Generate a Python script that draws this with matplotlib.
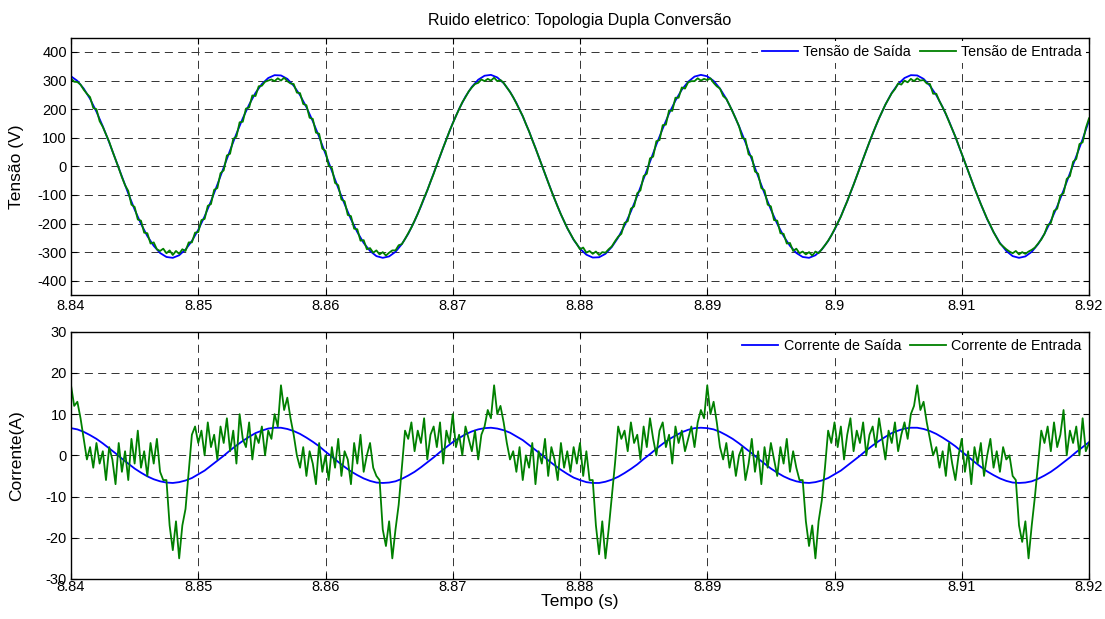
import numpy as np
import matplotlib
matplotlib.use("Agg")
import matplotlib.pyplot as plt

plt.rcParams['font.family'] = ['Liberation Sans', 'DejaVu Sans']
plt.rcParams['lines.scale_dashes'] = False
plt.rcParams['axes.unicode_minus'] = False

# ---------------- data ----------------
t_start, t_end = 8.84, 8.92

tensao_saida = [
    315, 299, 272, 236, 191, 140, 84, 24, -36, -95,
    -151, -201, -244, -278, -303, -317, -320, -311, -291, -261,
    -222, -175, -122, -64, -4, 56, 114, 168, 216, 257,
    288, 309, 319, 318, 306, 282, 249, 207, 158, 103,
    44, -16, -76, -132, -185, -230, -268, -296, -314, -320,
    -315, -299, -272, -236, -191, -140, -84, -24, 36, 95,
    151, 201, 244, 278, 303, 317, 320, 311, 291, 261,
    222, 175, 122, 64, 4, -56, -114, -168, -216, -257,
    -288, -309, -319, -318, -306, -282, -249, -207, -158, -103,
    -44, 16, 76, 132, 185, 230, 268, 296, 314, 320,
    315, 299, 272, 236, 191, 140, 84, 24, -36, -95,
    -151, -201, -244, -278, -303, -317, -320, -311, -291, -261,
    -222, -175, -122, -64, -4, 56, 114, 168, 216, 257,
    288, 309, 319, 318, 306, 282, 249, 207, 158, 103,
    44, -16, -76, -132, -185, -230, -268, -296, -314, -320,
    -315, -299, -272, -236, -191, -140, -84, -24, 36, 95,
    160,
]

tensao_entrada = [
    308, 296, 295, 286, 268, 254, 242, 204, 200, 158,
    138, 112, 86, 54, 24, -6, -38, -66, -86, -134,
    -142, -186, -190, -232, -234, -270, -266, -290, -296, -288,
    -304, -294, -310, -296, -306, -290, -296, -266, -266, -232,
    -230, -188, -184, -138, -132, -82, -76, -24, -14, 38,
    44, 96, 104, 154, 156, 202, 206, 248, 246, 280,
    282, 296, 300, 304, 298, 308, 300, 310, 298, 290,
    288, 258, 256, 218, 214, 170, 166, 118, 114, 62,
    54, 2, -6, -58, -66, -116, -122, -170, -174, -218,
    -220, -260, -258, -290, -286, -302, -294, -308, -300, -312,
    -302, -294, -294, -276, -272, -254, -234, -214, -190, -166,
    -138, -110, -84, -54, -26, 6, 36, 66, 94, 124,
    150, 176, 200, 224, 242, 262, 276, 288, 292, 304,
    298, 306, 300, 310, 298, 302, 292, 276, 260, 242,
    220, 198, 176, 148, 122, 92, 64, 34, 4, -26,
    -56, -86, -114, -142, -168, -192, -216, -236, -256, -272,
    -290, -284, -302, -296, -306, -298, -310, -300, -302, -290,
    -280, -262, -246, -236, -198, -192, -148, -140, -94, -84,
    -34, -26, 28, 34, 88, 92, 144, 146, 196, 194,
    240, 240, 276, 272, 294, 298, 298, 308, 300, 306,
    302, 308, 292, 280, 272, 246, 236, 214, 190, 166,
    140, 100, 94, 42, 34, -18, -26, -76, -84, -134,
    -140, -188, -190, -234, -236, -270, -268, -296, -288, -304,
    -298, -308, -300, -312, -298, -304, -290, -276, -260, -242,
    -220, -198, -176, -148, -122, -92, -64, -34, -4, 26,
    56, 86, 114, 142, 168, 192, 216, 236, 256, 270,
    290, 286, 300, 294, 306, 298, 308, 300, 302, 290,
    288, 254, 254, 228, 206, 184, 156, 130, 104, 74,
    44, 14, -16, -46, -76, -104, -132, -158, -184, -206,
    -230, -250, -270, -280, -290, -298, -304, -296, -308, -300,
    -306, -298, -292, -284, -270, -256, -236, -206, -198, -156,
    -148, -102, -94, -44, -34, 16, 26, 78, 84, 134,
    168,
]

corrente_saida = [
    6.6, 6.3, 5.7, 4.9, 4.0, 2.9, 1.7, 0.5, -0.8, -2.0,
    -3.2, -4.2, -5.1, -5.8, -6.3, -6.6, -6.7, -6.5, -6.1, -5.5,
    -4.6, -3.7, -2.5, -1.3, -0.1, 1.2, 2.4, 3.5, 4.5, 5.4,
    6.0, 6.5, 6.7, 6.7, 6.4, 5.9, 5.2, 4.3, 3.3, 2.2,
    0.9, -0.3, -1.6, -2.8, -3.9, -4.8, -5.6, -6.2, -6.6, -6.7,
    -6.6, -6.3, -5.7, -4.9, -4.0, -2.9, -1.7, -0.5, 0.8, 2.0,
    3.2, 4.2, 5.1, 5.8, 6.3, 6.6, 6.7, 6.5, 6.1, 5.5,
    4.6, 3.7, 2.5, 1.3, 0.1, -1.2, -2.4, -3.5, -4.5, -5.4,
    -6.0, -6.5, -6.7, -6.7, -6.4, -5.9, -5.2, -4.3, -3.3, -2.2,
    -0.9, 0.3, 1.6, 2.8, 3.9, 4.8, 5.6, 6.2, 6.6, 6.7,
    6.6, 6.3, 5.7, 4.9, 4.0, 2.9, 1.7, 0.5, -0.8, -2.0,
    -3.2, -4.2, -5.1, -5.8, -6.3, -6.6, -6.7, -6.5, -6.1, -5.5,
    -4.6, -3.7, -2.5, -1.3, -0.1, 1.2, 2.4, 3.5, 4.5, 5.4,
    6.0, 6.5, 6.7, 6.7, 6.4, 5.9, 5.2, 4.3, 3.3, 2.2,
    0.9, -0.3, -1.6, -2.8, -3.9, -4.8, -5.6, -6.2, -6.6, -6.7,
    -6.6, -6.3, -5.7, -4.9, -4.0, -2.9, -1.7, -0.5, 0.8, 2.0,
    3.2,
]

corrente_entrada = [
    17, 12, 13, 9, 4, -1, 2, -3, 3, -2,
    1, -6, 2, -1, -7, 3, -4, 1, -6, 4,
    -2, 6, -3, 1, -5, 3, -2, 4, -4, -6,
    -6, -17, -23, -16, -25, -17, -13, -4, 5, 7,
    3, 6, 0, 8, 2, 5, -1, 7, 3, 9,
    1, 6, -2, 10, 4, 2, 8, -1, 5, 3,
    7, 0, 6, 4, 10, 7, 17, 11, 14, 9,
    5, 0, -3, 2, -5, 1, -2, -7, 3, -4,
    0, -6, 2, -3, 4, -5, 1, -1, -7, 3,
    -2, 5, -4, 0, 3, -3, -5, -6, -18, -22,
    -16, -25, -18, -12, -3, 6, 4, 8, 1, 6,
    3, 9, -1, 5, 7, 2, 8, -2, 6, 3,
    10, 2, 5, 0, 7, 4, 1, 6, -1, 5,
    7, 11, 9, 17, 10, 12, 8, 3, -1, 1,
    -4, 2, -6, 0, -3, 3, -7, 1, -2, 4,
    -5, 2, -1, -6, 3, -3, 1, -4, 2, -2,
    3, -5, 1, -6, -6, -17, -24, -16, -25, -18,
    -10, -2, 7, 4, 6, 1, 8, 3, 5, -1,
    7, 2, 9, 4, 0, 6, 8, 2, 5, -2,
    7, 3, 6, 1, 4, 7, 2, 8, 11, 9,
    17, 10, 13, 8, 2, -1, 3, -3, 1, -5,
    0, 2, -6, -2, 4, -4, 1, -7, 2, -3,
    3, -1, -5, 2, -2, 4, -4, 1, -3, -6,
    -6, -16, -22, -17, -25, -16, -11, -3, 6, 3,
    8, 2, 7, -1, 5, 9, 1, 6, 3, 8,
    0, 5, 7, 2, 9, 4, -1, 6, 3, 8,
    1, 5, 8, 4, 10, 12, 17, 11, 13, 8,
    4, 0, 2, -3, 1, -5, 3, -2, -6, 0,
    4, -4, 1, -7, 2, -2, 3, -5, 0, 4,
    -3, 1, -4, 2, -1, 0, -5, -6, -17, -21,
    -16, -25, -17, -10, -2, 6, 3, 7, 1, 8,
    2, 5, 11, 0, 6, 3, 7, 0, 9, 1,
    3,
]

x_ticks = [8.84, 8.85, 8.86, 8.87, 8.88, 8.89, 8.9, 8.91, 8.92]
x_ticklabels = ['8.84', '8.85', '8.86', '8.87', '8.88', '8.89', '8.9', '8.91', '8.92']
v_ticks = [-400, -300, -200, -100, 0, 100, 200, 300, 400]
i_ticks = [-30, -20, -10, 0, 10, 20, 30]

t_vs = np.linspace(t_start, t_end, len(tensao_saida))
t_ve = np.linspace(t_start, t_end, len(tensao_entrada))
t_is = np.linspace(t_start, t_end, len(corrente_saida))
t_ie = np.linspace(t_start, t_end, len(corrente_entrada))

# ---------------- figure ----------------
W, H = 1105, 619
fig = plt.figure(figsize=(W / 100, H / 100), dpi=100)
L, R = 71, 1089
ax1 = fig.add_axes([L / W, 1 - 295 / H, (R - L) / W, (295 - 37.7) / H])
ax2 = fig.add_axes([L / W, 1 - 579 / H, (R - L) / W, (579 - 331.7) / H])

blue = (0, 0, 1)
green = (0, 0.5, 0)

ax1.plot(t_vs, tensao_saida, color=blue, lw=1.3, label='Tensão de Saída')
ax1.plot(t_ve, tensao_entrada, color=green, lw=1.3, label='Tensão de Entrada')
ax2.plot(t_is, corrente_saida, color=blue, lw=1.3, label='Corrente de Saída')
ax2.plot(t_ie, corrente_entrada, color=green, lw=1.3, label='Corrente de Entrada')

ax1.set_ylim(-450, 450)
ax1.set_yticks(v_ticks)
ax2.set_ylim(-30, 30)
ax2.set_yticks(i_ticks)

for ax, xpad in ((ax1, 3.0), (ax2, 0.5)):
    ax.set_xlim(t_start, t_end)
    ax.set_xticks(x_ticks)
    ax.set_xticklabels(x_ticklabels)
    ax.grid(True, color=(0.2, 0.2, 0.2), lw=0.7, linestyle=(0, (5.8, 3.8)))
    ax.set_axisbelow(True)
    ax.tick_params(axis='both', direction='in', top=True, right=True,
                   length=4, width=0.8, labelsize=10.5, colors='black')
    ax.tick_params(axis='x', pad=xpad)
    ax.tick_params(axis='y', pad=3)
    for s in ax.spines.values():
        s.set_linewidth(1.0)
        s.set_color('black')
    ax.legend(loc='upper right', ncol=2, fontsize=10.3, frameon=True,
              fancybox=False, edgecolor='none', facecolor='white',
              framealpha=1, handlelength=2.5, handletextpad=0.4,
              columnspacing=0.6, borderaxespad=0.2, borderpad=0.3)

ax1.set_title('Ruido eletrico: Topologia Dupla Conversão', fontsize=11.5, pad=9)
ax1.set_ylabel('Tensão (V)', fontsize=12.5)
ax2.set_ylabel('Corrente(A)', fontsize=12.5)
ax2.set_xlabel('Tempo (s)', fontsize=12.5, labelpad=0)
ax1.yaxis.set_label_coords(-0.046, 0.5)
ax2.yaxis.set_label_coords(-0.046, 0.5)

fig.savefig('out.png', dpi=100)
